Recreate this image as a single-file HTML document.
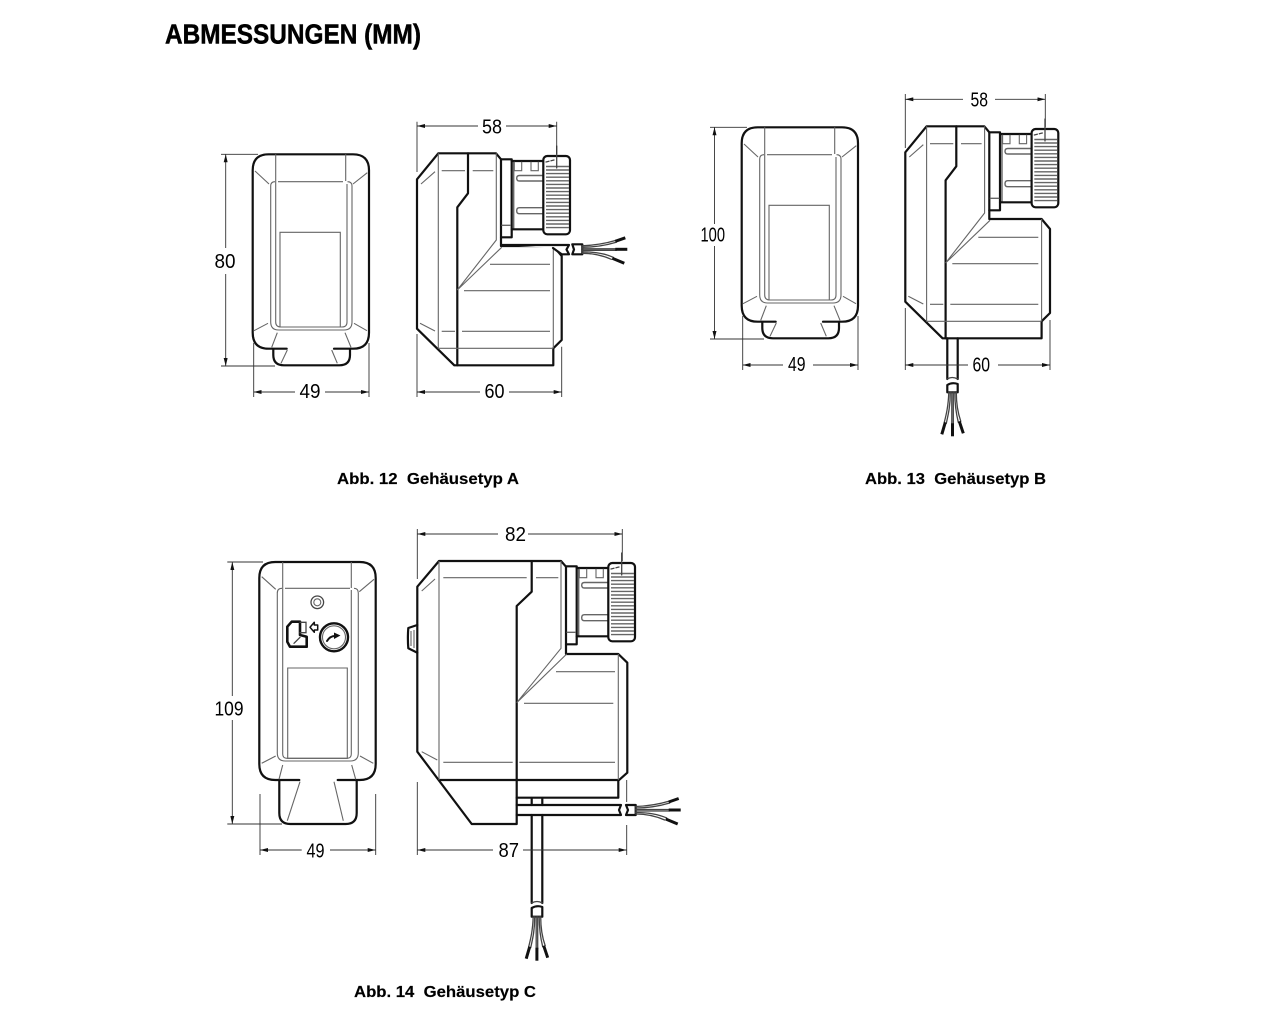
<!DOCTYPE html>
<html lang="de">
<head>
<meta charset="utf-8">
<title>Abmessungen</title>
<style>
html,body{margin:0;padding:0;background:#fff;width:1280px;height:1024px;overflow:hidden}
svg{display:block}
text{font-family:"Liberation Sans",sans-serif;fill:#000}
.t{fill:none;stroke:#111;stroke-width:2.2;stroke-linejoin:round;stroke-linecap:round}
.m{fill:none;stroke:#444;stroke-width:1.3;stroke-linecap:round}
.h{fill:none;stroke:#666;stroke-width:1.4}
.n{fill:none;stroke:#666;stroke-width:1.1}
.d{fill:none;stroke:#333;stroke-width:.9}
.tip{fill:none;stroke:#111;stroke-width:3;stroke-linecap:butt}
.dim{font-size:20px}
.cap{font-size:16px;font-weight:bold;stroke:#000;stroke-width:.15}
</style>
</head>
<body>
<svg width="1280" height="1024" viewBox="0 0 1280 1024" xmlns="http://www.w3.org/2000/svg">
<defs>
<marker id="a" viewBox="0 0 8 4" refX="8" refY="2" markerWidth="8" markerHeight="4" markerUnits="userSpaceOnUse" orient="auto-start-reverse"><path d="M0 0L8 2L0 4Z" fill="#111"/></marker>

<g id="front">
  <path class="t" d="M286.7 348.7H268.7Q252.7 348.7 252.7 332.7V170.3Q252.7 154.3 268.7 154.3H353Q369 154.3 369 170.3V332.7Q369 348.7 353 348.7H334"/>
  <path class="t" d="M273.3 349V355Q273.3 365.3 284 365.3H339.3Q350 365.3 350 355V349"/>
  <path class="n" d="M270.7 186Q270.7 181.7 275 181.7M347.5 181.7Q352 181.7 352 186V322Q352 330 344 330H278.7Q270.7 330 270.7 322V186"/>
  <path class="n" d="M275.7 154.3V322Q275.7 327 281 327H342Q347 327 347 322V184"/>
  <path class="n" d="M345.7 154.3V181M278 181.7H343"/>
  <path class="n" d="M280 232.3H340.3V327H280Z"/>
  <path class="n" d="M255 171L269 184M367.3 172.7L353 184M254 330.7L268 323.3M367 330.7L354 323.3M277.3 332.7L271.7 347.3M345 332.7L351 347.3M287.3 350L281 363.3M331.7 350L337.3 363.3"/>
</g>

<g id="head">
  <path class="t" d="M501 159.3H511.7V237.3H501"/>
  <path class="h" d="M501.5 225.3H511M513.7 161V229"/>
  <path class="t" d="M511.7 161H543.3M511.7 229.3H543.3"/>
  <path class="n" d="M514.3 161.7V170.7H521.7V161.7M531 161.7V170.7H538.3V161.7"/>
  <path class="h" d="M543 175.5H519.5Q516.7 175.5 516.7 178.2T519.5 181H543M543 207.7H519.5Q516.7 207.7 516.7 210.7T519.5 213.7H543"/>
  <rect class="t" x="543.3" y="156" width="26.7" height="78.3" rx="4" style="fill:#fff"/>
  <path class="h" d="M546 166.5H569M546 170H569M546 173.6H569M546 177.2H569M546 180.8H569M546 184.4H569M546 188H569M546 191.6H569M546 195.2H569M546 198.8H569M546 202.4H569M546 206H569M546 209.6H569M546 213.2H569M546 216.8H569M546 220.4H569M546 224H569M546 227.6H569"/>
  <path class="m" d="M546 162L549 161.2M551 160.8L554 160M556.7 146V168"/>
</g>

<g id="side">
  <path class="t" d="M501 159.3L496 153.3H438.3L417 179.3V328.7L454.3 365.3H553.3V348.3L561.7 340V256L553.3 246H501V159.3"/>
  <path class="t" d="M468 153.3V193.3L457.3 207.3V365.3"/>
  <path class="n" d="M438.3 153.3V348.3H553.3M553.3 246V348M496.3 153.3V240L457.3 290M501.7 247.3L457.3 290"/>
  <path class="n" d="M441.7 170.7H465M472.7 170.7H493.3M441.7 331.3H455M462 331.3H550M464 290.7H550M490 264.3H550M421 184L435 171.7M420 323.3L435 331"/>
  <use href="#head"/>
</g>

<g id="wiresR">
  <path class="m" d="M0 1.500C14 1 24 -1 34 -4M0 3C14 3 24 1 34 -2"/>
  <path class="tip" d="M33 -3L43 -6.500"/>
  <path class="m" d="M0 4.500H34M0 6H34"/>
  <path class="tip" d="M33 5H45"/>
  <path class="m" d="M0 7.500C12 7.500 22 9 31 13M0 9C10 9 20 11 29 15"/>
  <path class="tip" d="M30 14L42 19"/>
</g>

<g id="wiresD">
  <path class="m" d="M1.500 0C1 14 -1 22 -3 30M3 0C3 14 1 22 -1 31"/>
  <path class="tip" d="M-2 30L-5.500 42"/>
  <path class="m" d="M4.500 0V32M6 0V32"/>
  <path class="tip" d="M5.200 31V44"/>
  <path class="m" d="M7.500 0C7.500 14 9 22 11 30M9 0C9 14 11 22 13.500 29"/>
  <path class="tip" d="M12 29L16 41"/>
</g>
</defs>

<text x="165" y="43.500" font-size="28" font-weight="bold" stroke="#000" stroke-width=".5" textLength="256" lengthAdjust="spacingAndGlyphs">ABMESSUNGEN (MM)</text>

<!-- Abb. 12 front -->
<use href="#front"/>
<path class="d" d="M221 154.300H258M221 366H275M253.700 343V397M369 343V397"/>
<line class="d" x1="225.700" y1="154.300" x2="225.700" y2="248" marker-start="url(#a)"/>
<line class="d" x1="225.700" y1="274" x2="225.700" y2="366" marker-end="url(#a)"/>
<line class="d" x1="253.700" y1="392" x2="295" y2="392" marker-start="url(#a)"/>
<line class="d" x1="325" y1="392" x2="369" y2="392" marker-end="url(#a)"/>
<text class="dim" x="214.500" y="268" textLength="21" lengthAdjust="spacingAndGlyphs">80</text>
<text class="dim" x="299.500" y="398" textLength="21" lengthAdjust="spacingAndGlyphs">49</text>

<!-- Abb. 12 side -->
<use href="#side"/>
<path class="t" style="fill:#fff" d="M501 245H569L566.500 249.500L569 254.300H561.700L553 248"/>
<path class="t" d="M572.300 244.300H582.300V254.300H572.300L574 249.500Z"/>
<use href="#wiresR" x="582.300" y="244.300"/>
<path class="d" d="M417 121.700V172M556.700 121.700V154M417 334V397M561.700 346.700V397"/>
<line class="d" x1="417" y1="126" x2="478" y2="126" marker-start="url(#a)"/>
<line class="d" x1="506" y1="126" x2="556.700" y2="126" marker-end="url(#a)"/>
<line class="d" x1="417" y1="392" x2="480" y2="392" marker-start="url(#a)"/>
<line class="d" x1="509" y1="392" x2="561.700" y2="392" marker-end="url(#a)"/>
<text class="dim" x="482" y="133.500" textLength="20" lengthAdjust="spacingAndGlyphs">58</text>
<text class="dim" x="484.500" y="398" textLength="20" lengthAdjust="spacingAndGlyphs">60</text>

<text class="cap" x="337" y="484" textLength="182" lengthAdjust="spacingAndGlyphs" xml:space="preserve">Abb. 12  Gehäusetyp A</text>

<!-- Abb. 13 front -->
<use href="#front" transform="translate(489,-27)"/>
<path class="d" d="M710 127.300H747M710 339H764M742.700 316V370M858 316V370"/>
<line class="d" x1="714.500" y1="127.300" x2="714.500" y2="224" marker-start="url(#a)"/>
<line class="d" x1="714.500" y1="246" x2="714.500" y2="339" marker-end="url(#a)"/>
<line class="d" x1="742.700" y1="365" x2="783" y2="365" marker-start="url(#a)"/>
<line class="d" x1="813" y1="365" x2="858" y2="365" marker-end="url(#a)"/>
<text class="dim" x="700.500" y="241.500" textLength="24.500" lengthAdjust="spacingAndGlyphs">100</text>
<text class="dim" x="788" y="371" textLength="17.500" lengthAdjust="spacingAndGlyphs">49</text>

<!-- Abb. 13 side -->
<use href="#side" transform="translate(488.300,-27)"/>
<path class="t" d="M947.300 338.300V379M957.700 338.300V379"/>
<path class="m" d="M947.300 379Q952 376 957.700 379"/>
<path class="t" d="M947.300 392.300V385Q952 382 957.700 384V392.300Z"/>
<use href="#wiresD" x="947.300" y="392.300"/>
<path class="d" d="M905.300 94V148M1045.300 94V127M905.300 308V370M1050 320V370"/>
<line class="d" x1="905.300" y1="99.300" x2="963" y2="99.300" marker-start="url(#a)"/>
<line class="d" x1="995" y1="99.300" x2="1045.300" y2="99.300" marker-end="url(#a)"/>
<line class="d" x1="905.300" y1="365" x2="968" y2="365" marker-start="url(#a)"/>
<line class="d" x1="998" y1="365" x2="1050" y2="365" marker-end="url(#a)"/>
<text class="dim" x="970.500" y="106.500" textLength="17.500" lengthAdjust="spacingAndGlyphs">58</text>
<text class="dim" x="972.500" y="371.500" textLength="17.500" lengthAdjust="spacingAndGlyphs">60</text>

<text class="cap" x="865" y="484" textLength="181" lengthAdjust="spacingAndGlyphs" xml:space="preserve">Abb. 13  Gehäusetyp B</text>

<!-- Abb. 14 front -->
<path class="t" d="M299.300 780H275.300Q259.300 780 259.300 764V578Q259.300 562 275.300 562H359.700Q375.700 562 375.700 578V764Q375.700 780 359.700 780H337.700"/>
<path class="t" d="M279.300 780.500V813Q279.300 824 290.300 824H345.700Q356.700 824 356.700 813V780.500"/>
<path class="n" d="M277.300 593Q277.300 588.300 282 588.300M354 588.300Q358.300 588.300 358.300 593V753Q358.300 761 350.300 761H285.300Q277.300 761 277.300 753V593"/>
<path class="n" d="M282.700 562V754Q282.700 758.300 287 758.300H347Q351.300 758.300 351.300 754V590"/>
<path class="n" d="M351.300 562V588M285 588.300H350M287.700 668H347.300V758.300H287.700Z"/>
<path class="n" d="M261.700 576.700L275.700 589.300M374 579.300L359.300 591.700M261.700 763.300L275.700 756M373.300 763.300L360 756M282.700 765L279 779.300M351.700 765L355.700 779.300M300 781.700L287.300 820.700M334 781.700L343.300 820.700"/>
<circle class="m" cx="317.300" cy="602.300" r="6.300"/>
<circle class="n" cx="317.300" cy="602.300" r="3.500"/>
<circle class="t" cx="334" cy="637.300" r="14" style="stroke-width:2.4"/>
<circle class="n" cx="334" cy="637.300" r="11.500"/>
<path class="t" style="stroke-width:2" d="M327 641Q330 636 335 636"/>
<path d="M334 632.500L340.500 635.500L334 639Z" fill="#111"/>
<path class="t" style="stroke-width:2.600" d="M291.700 621.700H300V635L306.700 636.700V646.700H290L287.300 641.700V626.700Z"/>
<path class="m" d="M300 622.300H306V632.700H300M294 643.300L300 637.300"/>
<path class="t" style="stroke-width:1.500" d="M310 627.300L314.300 622.300V625H317.700V630H314.300V632.300Z"/>
<path class="d" d="M227.300 562H263M227.300 824H282M260 794V855M375.700 794V855"/>
<line class="d" x1="232.300" y1="562" x2="232.300" y2="696" marker-start="url(#a)"/>
<line class="d" x1="232.300" y1="720" x2="232.300" y2="824" marker-end="url(#a)"/>
<line class="d" x1="260" y1="850" x2="301.700" y2="850" marker-start="url(#a)"/>
<line class="d" x1="330" y1="850" x2="375.700" y2="850" marker-end="url(#a)"/>
<text class="dim" x="214.500" y="715.500" textLength="29" lengthAdjust="spacingAndGlyphs">109</text>
<text class="dim" x="306.500" y="857.500" textLength="18" lengthAdjust="spacingAndGlyphs">49</text>

<!-- Abb. 14 side -->
<path class="t" d="M566 566.700L561 561H439L417.300 586.700V751.700L471.700 824H516.700V606L531.700 591.700V561"/>
<path class="t" d="M566 566.700V654H618.300L627.300 662.700V772.700L618.300 780.700V797.700H516.700M440 780H618.300"/>
<path class="n" d="M439 561V780M618.300 654V780M561 561V648.300L516.700 702.700M566.700 654L516.700 702.700"/>
<path class="n" d="M443.300 577.700H526.700M536 577.700H558.300M443.300 762.300H512.700M519.300 762.300H615M524 703.300H613.300M556 671.700H615M421.700 591L435 579M421.700 751.700L437.300 760"/>
<use href="#head" transform="translate(65,407)"/>
<path class="t" d="M417.300 625L408.300 628Q407.500 638 408.300 648.300L417.300 652.700"/>
<path class="n" d="M411 631V646M414 630V648"/>
<path class="t" d="M531.700 798V805M542.300 798V805M531.700 815V903M542.300 815V903"/>
<path class="m" d="M531.700 903Q537 900 542.300 903"/>
<path class="t" d="M516.700 805H621L619 810L621 815H516.700"/>
<path class="t" d="M626 805H635.700V815H626L628 810Z"/>
<use href="#wiresR" x="635.700" y="805"/>
<path class="t" d="M531.700 916.700V908Q537 905 542.300 907V916.700Z"/>
<use href="#wiresD" x="531.700" y="916.700"/>
<path class="d" d="M417.300 529V579M622.300 529V561M417.300 782V855M626.700 780V802M626.700 825V855"/>
<line class="d" x1="417.300" y1="534" x2="498" y2="534" marker-start="url(#a)"/>
<line class="d" x1="528" y1="534" x2="622.300" y2="534" marker-end="url(#a)"/>
<line class="d" x1="417.300" y1="850" x2="493" y2="850" marker-start="url(#a)"/>
<line class="d" x1="523" y1="850" x2="626.700" y2="850" marker-end="url(#a)"/>
<text class="dim" x="505" y="541" textLength="21" lengthAdjust="spacingAndGlyphs">82</text>
<text class="dim" x="498.500" y="857" textLength="20.500" lengthAdjust="spacingAndGlyphs">87</text>

<text class="cap" x="354" y="997" textLength="182" lengthAdjust="spacingAndGlyphs" xml:space="preserve">Abb. 14  Gehäusetyp C</text>
</svg>
</body>
</html>
